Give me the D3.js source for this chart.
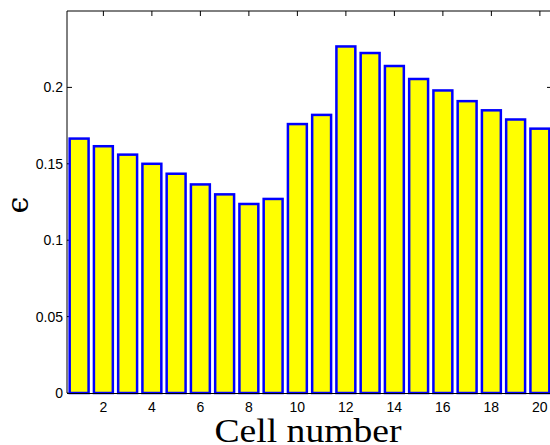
<!DOCTYPE html>
<html>
<head>
<meta charset="utf-8">
<script src="https://cdn.jsdelivr.net/npm/d3@7"></script>
<style>
  html, body { margin: 0; padding: 0; background: #fff; }
  svg { display: block; }
</style>
</head>
<body>
<svg id="chart" width="550" height="445"></svg>
<script>
const cells = [1,2,3,4,5,6,7,8,9,10,11,12,13,14,15,16,17,18,19,20];
const epsilon = [0.1665,0.1615,0.156,0.150,0.1435,0.1365,0.130,0.1237,0.127,0.176,
                 0.182,0.2268,0.2225,0.214,0.2055,0.198,0.191,0.185,0.179,0.173];
const xTicks = [2,4,6,8,10,12,14,16,18,20];
const yTicks = [0,0.05,0.1,0.15,0.2];
const yTickLabels = ["0","0.05","0.1","0.15","0.2"];
const xLabel = "Cell number";
const yLabel = "\u03F5";

(function () {
const svg = d3.select("#chart");
const mLeft = 67, mRight = 552, mTop = 11, mBottom = 393;
const x = d3.scaleLinear().domain([0.5, 20.5]).range([mLeft, mRight]);
const y = d3.scaleLinear().domain([0, 0.25]).range([mBottom, mTop]);
const barW = 0.78;

// ticks (inner, drawn beneath bars)
const tickLen = 5;
const gTicks = svg.append("g").attr("stroke", "#000").attr("stroke-width", 1);
xTicks.forEach(t => {
  gTicks.append("line").attr("x1", x(t)).attr("x2", x(t)).attr("y1", mTop).attr("y2", mTop + tickLen);
  gTicks.append("line").attr("x1", x(t)).attr("x2", x(t)).attr("y1", mBottom).attr("y2", mBottom - tickLen);
});
yTicks.forEach(t => {
  gTicks.append("line").attr("x1", mLeft).attr("x2", mLeft + tickLen).attr("y1", y(t)).attr("y2", y(t));
  gTicks.append("line").attr("x1", mRight).attr("x2", mRight - tickLen).attr("y1", y(t)).attr("y2", y(t));
});

// bars
svg.append("g").selectAll("rect").data(cells).join("rect")
  .attr("x", (d) => x(d - barW / 2))
  .attr("width", (d) => x(d + barW / 2) - x(d - barW / 2))
  .attr("y", (d, i) => y(epsilon[i]))
  .attr("height", (d, i) => y(0) - y(epsilon[i]))
  .attr("fill", "#ffff00")
  .attr("stroke", "#0000ff")
  .attr("stroke-width", 2.5);

// axis box
svg.append("path")
  .attr("d", `M${mLeft},${mBottom}V${mTop}H${mRight}`)
  .attr("fill", "none").attr("stroke", "#000").attr("stroke-width", 1);
svg.append("line").attr("x1", mLeft).attr("x2", mRight).attr("y1", mBottom + 0.5).attr("y2", mBottom + 0.5)
  .attr("stroke", "#000").attr("stroke-width", 1);

// tick labels
const font = "'Liberation Sans', Arial, Helvetica, sans-serif";
svg.append("g").selectAll("text").data(xTicks).join("text")
  .attr("x", d => x(d)).attr("y", 411.5)
  .attr("text-anchor", "middle")
  .attr("font-family", font).attr("font-size", 14).attr("fill", "#000")
  .text(d => d);
svg.append("g").selectAll("text").data(yTicks).join("text")
  .attr("x", 63).attr("y", d => y(d) + 5)
  .attr("text-anchor", "end")
  .attr("font-family", font).attr("font-size", 14).attr("fill", "#000")
  .text((d, i) => yTickLabels[i]);

// axis labels
svg.append("text")
  .attr("x", 308).attr("y", 441.5)
  .attr("text-anchor", "middle")
  .attr("font-family", "'Liberation Serif', 'Times New Roman', serif")
  .attr("font-size", 34)
  .attr("textLength", 187).attr("lengthAdjust", "spacingAndGlyphs")
  .attr("fill", "#000")
  .text(xLabel);
svg.append("text")
  .attr("transform", "translate(28,205) rotate(-90)")
  .attr("text-anchor", "middle")
  .attr("font-family", "'DejaVu Serif', serif")
  .attr("font-size", 30)
  .attr("fill", "#000")
  .text(yLabel);
})();
</script>
</body>
</html>
